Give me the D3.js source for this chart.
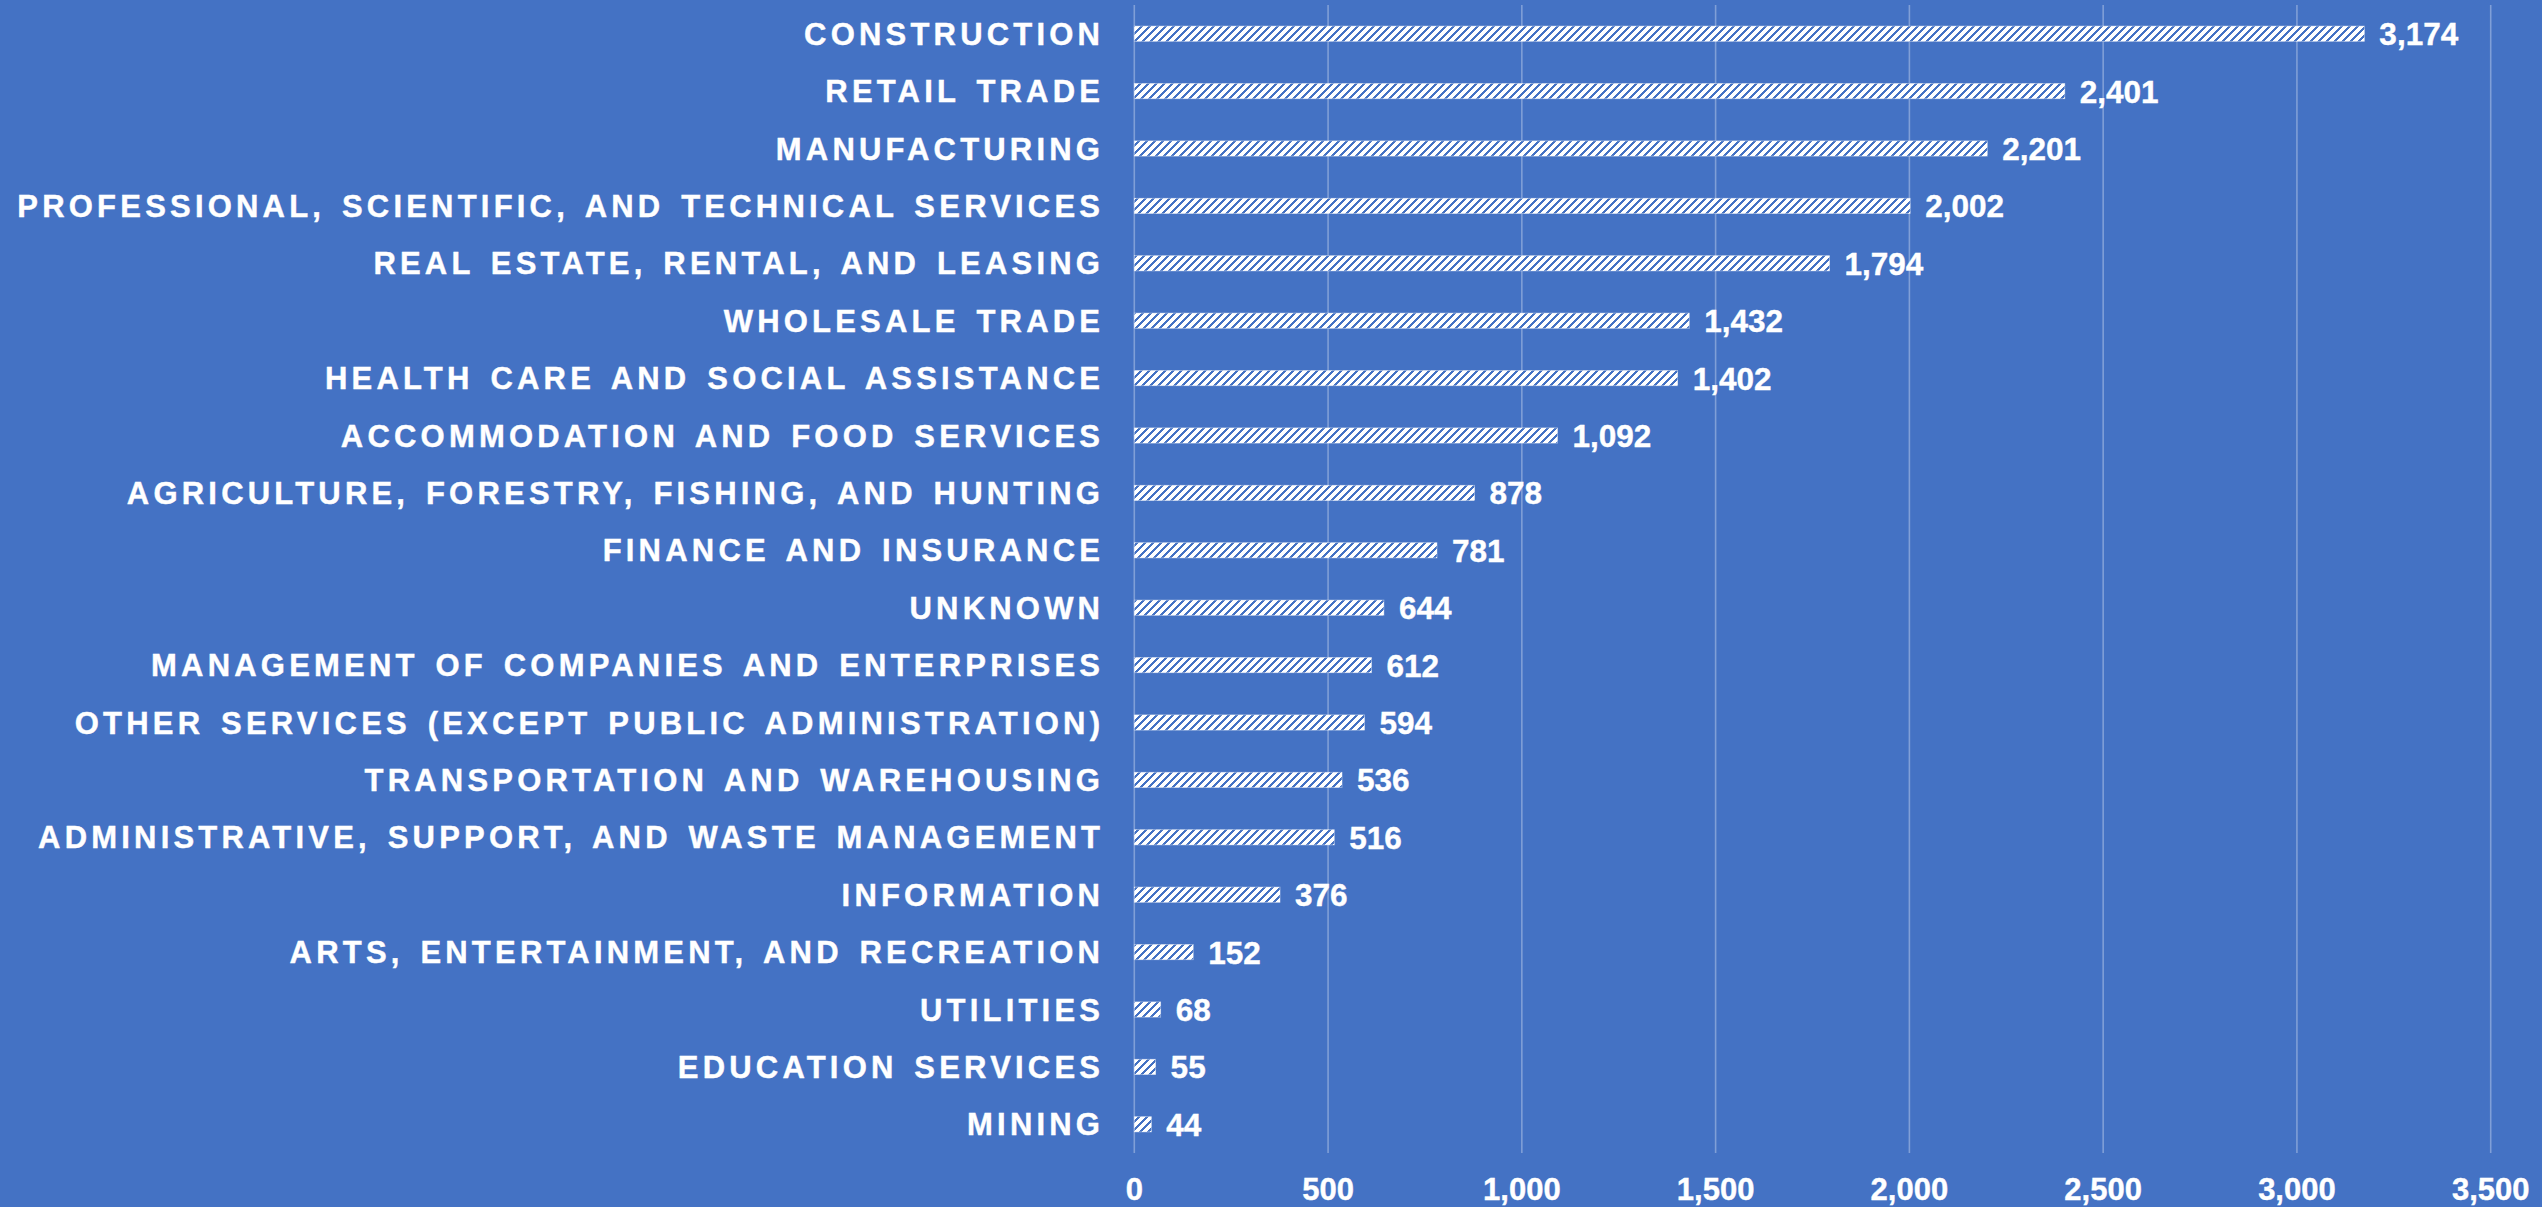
<!DOCTYPE html>
<html>
<head>
<meta charset="utf-8">
<script src="https://cdn.jsdelivr.net/npm/d3@7/dist/d3.min.js"></script>
<style>
  html, body { margin: 0; padding: 0; background: #4472C4; }
  svg { display: block; }
  text { font-family: "Liberation Sans", Arial, sans-serif; font-weight: bold; fill: #ffffff; stroke: #ffffff; stroke-width: 0.4px; }
</style>
</head>
<body>
<svg id="chart" width="2542" height="1207"></svg>
<script>
const categories = [
  "CONSTRUCTION",
  "RETAIL TRADE",
  "MANUFACTURING",
  "PROFESSIONAL, SCIENTIFIC, AND TECHNICAL SERVICES",
  "REAL ESTATE, RENTAL, AND LEASING",
  "WHOLESALE TRADE",
  "HEALTH CARE AND SOCIAL ASSISTANCE",
  "ACCOMMODATION AND FOOD SERVICES",
  "AGRICULTURE, FORESTRY, FISHING, AND HUNTING",
  "FINANCE AND INSURANCE",
  "UNKNOWN",
  "MANAGEMENT OF COMPANIES AND ENTERPRISES",
  "OTHER SERVICES (EXCEPT PUBLIC ADMINISTRATION)",
  "TRANSPORTATION AND WAREHOUSING",
  "ADMINISTRATIVE, SUPPORT, AND WASTE MANAGEMENT",
  "INFORMATION",
  "ARTS, ENTERTAINMENT, AND RECREATION",
  "UTILITIES",
  "EDUCATION SERVICES",
  "MINING"
];
const values = [3174, 2401, 2201, 2002, 1794, 1432, 1402, 1092, 878, 781, 644, 612, 594, 536, 516, 376, 152, 68, 55, 44];
const xTicks = [0, 500, 1000, 1500, 2000, 2500, 3000, 3500];

const svg = d3.select("#chart");
const plot = { left: 1134.3, right: 2490.7, top: 5, bottom: 1153 };

const x = d3.scaleLinear().domain([0, 3500]).range([plot.left, plot.right]);
const pIn = 0.735;
const y = d3.scaleBand().domain(categories).range([plot.top, plot.bottom])
  .paddingInner(pIn).paddingOuter(pIn / 2);

// hatch pattern
const defs = svg.append("defs");
const pat = defs.append("pattern")
  .attr("id", "hatch").attr("patternUnits", "userSpaceOnUse")
  .attr("width", 8).attr("height", 8);
pat.append("rect").attr("width", 8).attr("height", 8).attr("fill", "#ffffff");
pat.append("path")
  .attr("d", "M-2,2 L2,-2 M0,8 L8,0 M6,10 L10,6")
  .attr("stroke", "#4472C4").attr("stroke-width", 2.6).attr("shape-rendering", "crispEdges");

// gridlines
svg.append("g").selectAll("line").data(xTicks).join("line")
  .attr("x1", d => x(d)).attr("x2", d => x(d))
  .attr("y1", plot.top).attr("y2", plot.bottom)
  .attr("stroke", "rgba(255,255,255,0.32)").attr("stroke-width", 1.6);

// x axis labels
const fmt = d3.format(",");
svg.append("g").selectAll("text").data(xTicks).join("text")
  .attr("x", d => x(d)).attr("y", 1200)
  .attr("text-anchor", "middle")
  .style("font-size", "31px")
  .text(d => fmt(d));

// bars
svg.append("g").selectAll("rect").data(values).join("rect")
  .attr("x", x(0))
  .attr("y", (d, i) => y(categories[i]))
  .attr("width", d => x(d) - x(0))
  .attr("height", y.bandwidth())
  .attr("fill", "url(#hatch)")
  .attr("stroke", "rgba(255,255,255,0.5)").attr("stroke-width", 0.8);

// value labels
svg.append("g").selectAll("text").data(values).join("text")
  .attr("x", d => x(d) + 15)
  .attr("y", (d, i) => y(categories[i]) + y.bandwidth() / 2 + 11.5)
  .style("font-size", "31.5px")
  .text(d => fmt(d));

// category labels
const ls = 4.2;
svg.append("g").selectAll("text").data(categories).join("text")
  .attr("x", 1100 + ls)
  .attr("y", d => y(d) + y.bandwidth() / 2 + 11)
  .attr("text-anchor", "end")
  .style("font-size", "31px")
  .style("letter-spacing", ls + "px")
  .style("word-spacing", "4px")
  .text(d => d);
</script>
</body>
</html>
